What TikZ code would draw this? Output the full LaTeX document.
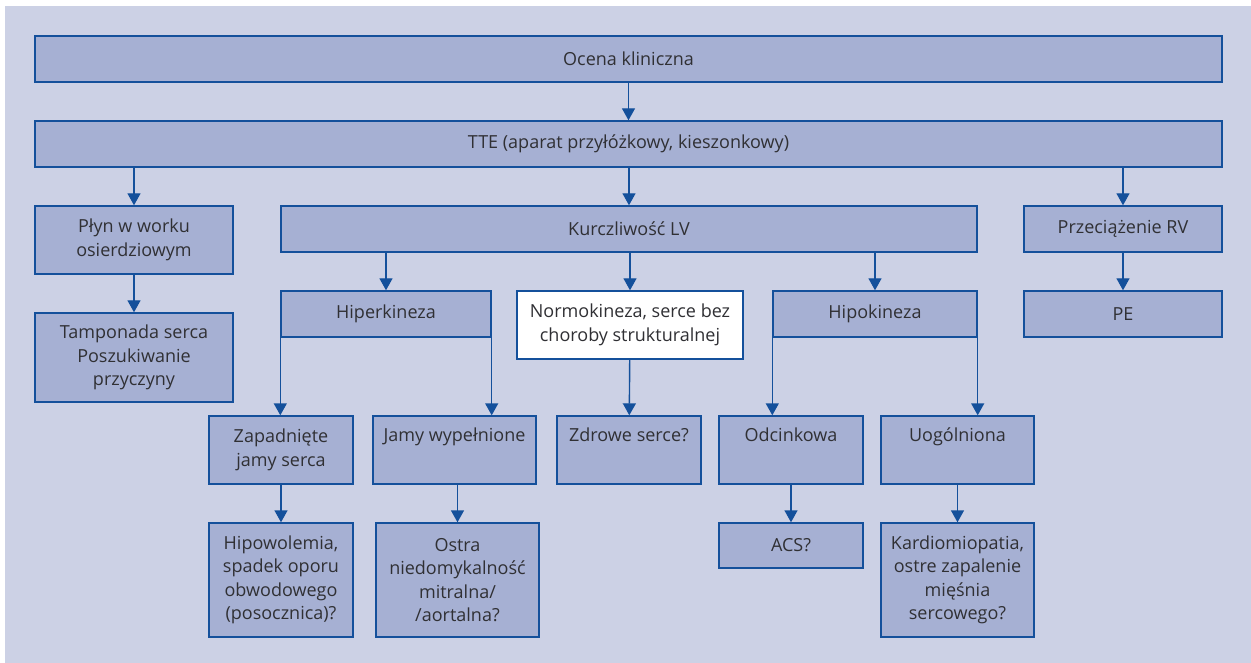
\documentclass[tikz,border=0pt]{standalone}
\usepackage{fontspec}
\setmainfont{Open Sans}
\usetikzlibrary{arrows.meta}
\definecolor{panelbg}{RGB}{204,209,229}
\definecolor{boxfill}{RGB}{166,176,211}
\definecolor{boxline}{RGB}{20,80,155}
\definecolor{txtgray}{RGB}{48,48,52}

\begin{document}
\begin{tikzpicture}[x=1pt,y=-1pt,>={Triangle[width=13pt,length=12pt]},
  every node/.style={font=\fontsize{18}{23.5}\selectfont,text=txtgray},
  stepbox/.style={draw=boxline,line width=1.4pt,fill=boxfill,align=center,inner sep=0pt},
  arr/.style={->,draw=boxline,line width=1.4pt}]
  % panel
  \useasboundingbox (0,0) rectangle (1251,663);
  \fill[panelbg] (5,6) rectangle (1251,663);
  % top rows
  \node[stepbox,minimum width=1187pt,minimum height=46pt] (ocena) at (628.5,59) {Ocena kliniczna};
  \node[stepbox,minimum width=1187pt,minimum height=46pt] (tte) at (628.5,144) {TTE (aparat przyłóżkowy, kieszonkowy)};
  % second row
  \node[stepbox,minimum width=198pt,minimum height=68pt] (plyn) at (134,240) {Płyn w worku\\osierdziowym};
  \node[stepbox,minimum width=696pt,minimum height=46pt] (kurcz) at (629,229) {Kurczliwość LV};
  \node[stepbox,minimum width=198pt,minimum height=46pt] (przec) at (1123,229) {Przeciążenie RV};
  % third row
  \node[stepbox,minimum width=198pt,minimum height=89pt] (tamp) at (134,357.5) {Tamponada serca\\Poszukiwanie\\przyczyny};
  \node[stepbox,minimum width=210pt,minimum height=46pt] (hiper) at (386,314) {Hiperkineza};
  \node[stepbox,fill=white,minimum width=226pt,minimum height=68pt] (normo) at (630,325) {Normokineza, serce bez\\choroby strukturalnej};
  \node[stepbox,minimum width=204pt,minimum height=46pt] (hipo) at (875,314) {Hipokineza};
  \node[stepbox,minimum width=198pt,minimum height=46pt] (pe) at (1123,314) {PE};
  % fourth row
  \node[stepbox,minimum width=144pt,minimum height=68pt] (zap) at (281,450) {Zapadnięte\\jamy serca};
  \node[stepbox,minimum width=163pt,minimum height=68pt] (jamy) at (454.5,450) {Jamy wypełnione\\\strut};
  \node[stepbox,minimum width=144pt,minimum height=68pt] (zdrowe) at (629,450) {Zdrowe serce?\\\strut};
  \node[stepbox,minimum width=144pt,minimum height=68pt] (odc) at (791,450) {Odcinkowa\\\strut};
  \node[stepbox,minimum width=153pt,minimum height=68pt] (uog) at (957.5,450) {Uogólniona\\\strut};
  % bottom row
  \node[stepbox,minimum width=144pt,minimum height=114pt] (hipow) at (281,580) {Hipowolemia,\\spadek oporu\\obwodowego\\(posocznica)?};
  \node[stepbox,minimum width=163pt,minimum height=114pt] (ostra) at (457.5,580) {Ostra\\niedomykalność\\mitralna/\\/aortalna?};
  \node[stepbox,minimum width=144pt,minimum height=45pt] (acs) at (791,545.5) {ACS?};
  \node[stepbox,minimum width=153pt,minimum height=114pt] (kardio) at (957.5,580) {Kardiomiopatia,\\ostre zapalenie\\mięśnia\\sercowego?};
  % connectors
  \draw[arr] (ocena) -- (tte);
  \draw[arr] (tte.south -| plyn.north) -- (plyn.north);
  \draw[arr] (tte.south -| kurcz.north) -- (kurcz.north);
  \draw[arr] (tte.south -| przec.north) -- (przec.north);
  \draw[arr] (plyn) -- (tamp);
  \draw[arr] (przec) -- (pe);
  \draw[arr] (kurcz.south -| hiper.north) -- (hiper.north);
  \draw[arr] (kurcz.south -| normo.north) -- (normo.north);
  \draw[arr] (kurcz.south -| hipo.north) -- (hipo.north);
  \draw[arr] (hiper.south west) -- (hiper.south west |- zap.north);
  \draw[arr] (hiper.south east) -- (hiper.south east |- jamy.north);
  \draw[arr] (normo) -- (zdrowe);
  \draw[arr] (hipo.south west) -- (hipo.south west |- odc.north);
  \draw[arr] (hipo.south east) -- (hipo.south east |- uog.north);
  \draw[arr] (zap) -- (hipow);
  \draw[arr] (jamy.south -| ostra.north) -- (ostra.north);
  \draw[arr] (odc) -- (acs);
  \draw[arr] (uog) -- (kardio);
\end{tikzpicture}
\end{document}
